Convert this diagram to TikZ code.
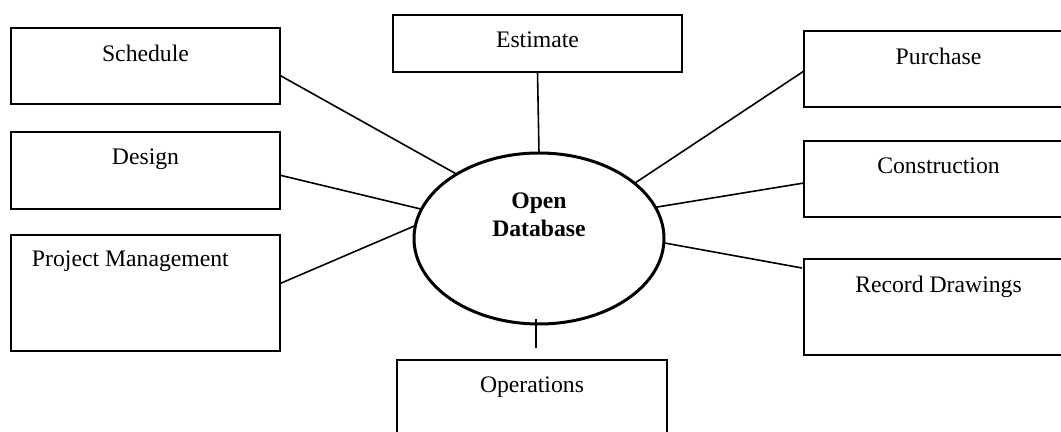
\documentclass[tikz,border=0pt]{standalone}
\usepackage{fontspec}
\setmainfont{Liberation Serif}
\usetikzlibrary{calc,shapes.geometric}

\begin{document}
\begin{tikzpicture}[x=0.5pt,y=-0.5pt,
    every node/.style={inner sep=0pt,outer sep=0pt,font=\fontsize{11.85}{14}\selectfont},
    taskbox/.style={draw,line width=1pt,anchor=north west,minimum width=134.5pt,minimum height=#1},
    tasklabel/.style={label={[anchor=north,yshift=-8.5pt]north:#1}},
    link/.style={line width=0.8pt}]

\useasboundingbox (0,0) rectangle (1061,432);
\clip (0,0) rectangle (1061,432);

% Centre
\node[draw,ellipse,line width=1.5pt,minimum width=125pt,minimum height=85.5pt,
  label={[anchor=north,yshift=-20pt,align=center,font=\fontsize{11.85}{14}\selectfont\bfseries]north:{Open\\Database}}]
  (db) at (539,238.5) {};

% Left column
\node[taskbox=38pt,tasklabel=Schedule] (sched) at (11,28) {};
\node[taskbox=38.5pt,tasklabel=Design] (design) at (11,132) {};
\node[taskbox=58pt,
  label={[anchor=north west,xshift=10.5pt,yshift=-8pt]north west:Project Management}]
  (pm) at (11,235) {};

% Top and bottom
\node[taskbox=28.5pt,minimum width=144.5pt,tasklabel=Estimate] (est) at (393,15) {};
\node[taskbox=50pt,minimum width=135pt,tasklabel=Operations] (ops) at (397,360) {};

% Right column
\node[taskbox=38pt,tasklabel=Purchase] (purch) at (804,31) {};
\node[taskbox=38pt,tasklabel=Construction] (constr) at (804,141) {};
\node[taskbox=48pt,tasklabel=Record Drawings] (rec) at (804,259) {};

% Links
\draw[link] (sched.-4.7) -- (db.142);
\draw[link] (design.-2.8) -- (db.166);
\draw[link] (pm.4.7) -- (db.174);
\draw[link] (est.south) -- (db.north);
\draw[link] ($(purch.west)+(0,2)$) -- (db.30);
\draw[link] ($(constr.west)+(0,4)$) -- (db.15);
\draw[link] ($(rec.north west)+(-2,9)$) -- (db.-2.5);
\draw[link] ($(db.south)+(-3,-5)$) -- ($(ops.north)+(4,-12)$);

\end{tikzpicture}
\end{document}
